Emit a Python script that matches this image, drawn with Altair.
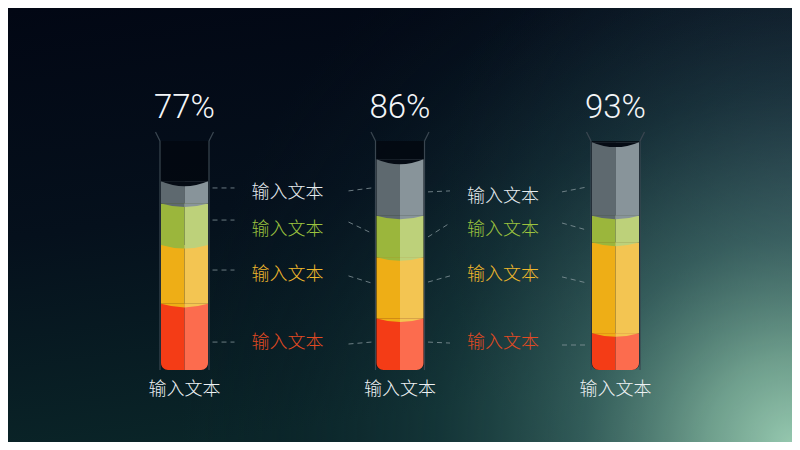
import altair as alt
import pandas as pd

# ---------------- data ----------------
tube_ids = [0, 1, 2]
percent_labels = ["77%", "86%", "93%"]
tube_names = ["输入文本", "输入文本", "输入文本"]

levels = ["red", "orange", "green", "gray"]          # bottom -> top
red_vals = [27, 21, 15]
orange_vals = [24, 25, 37]
green_vals = [17, 17, 11]
gray_vals = [9, 23, 30]

side_text = "输入文本"
side_levels = ["gray", "green", "orange", "red"]      # top -> bottom
label_y_tube0 = [72.2, 57.1, 38.8, 11.0]
label_y_tube1 = [70.6, 57.1, 38.8, 11.0]

# dashed connectors (heights at start / end)
short0_y = [74.3, 61.2, 40.8, 11.4]
conn01_start = [73.1, 60.4, 38.4, 10.6]
conn01_end = [74.3, 55.9, 35.5, 11.4]
short1_start = [72.7, 54.3, 35.9, 11.4]
short1_end = [73.1, 60.0, 38.4, 11.0]
conn12_start = [72.7, 60.0, 38.0, 10.2]
conn12_end = [74.7, 57.1, 35.5, 10.2]

dark_col = {"red": "#f43c16", "orange": "#eeae16", "green": "#9bb63c", "gray": "#5e696f"}
light_col = {"red": "#fc6c4e", "orange": "#f3c552", "green": "#bdd17a", "gray": "#88949a"}
text_col = {"red": "#e24a22", "orange": "#f0b82c", "green": "#9cc33e", "gray": "#e6ecef"}

# ---------------- geometry ----------------
W, H = 784, 434
PXX = 215.5                       # px per tube step
XMIN, XMAX = -176.5 / PXX, (W - 176.5) / PXX
PXY = 2.45                        # px per percent unit
YMAX = 362 / PXY
YMIN = (362 - H) / PXY


def dx(px):
    return px / PXX


def dy(px):
    return px / PXY


xs = alt.Scale(domain=[XMIN, XMAX], nice=False, zero=False)
ys = alt.Scale(domain=[YMIN, YMAX], nice=False, zero=False)


def X(f):
    return alt.X(f, type="quantitative", scale=xs, axis=None)


def X2(f):
    return alt.X2(f)


def Y(f):
    return alt.Y(f, type="quantitative", scale=ys, axis=None)


def Y2(f):
    return alt.Y2(f)


# segments
seg_rows = []
lens_rows = []
top_rows = []
vals = {"red": red_vals, "orange": orange_vals, "green": green_vals, "gray": gray_vals}
for t in tube_ids:
    base = 0.0
    for i, lv in enumerate(levels):
        top = base + vals[lv][t]
        seg_rows.append(dict(t=t, xl=t - dx(23.5), xm=t, xr=t + dx(23.5), y0=base, y1=top,
                             dark=dark_col[lv], light=light_col[lv], bottom=(i == 0)))
        if i > 0:
            lens_rows.append(dict(t=t, y=base, dark=dark_col[lv], light=light_col[lv]))
        base = top
    top_rows.append(dict(t=t, y=base, c="#050b14"))
seg = pd.DataFrame(seg_rows)
seg_bottom = seg[seg.bottom]
seg_upper = seg[~seg.bottom]
lens = pd.DataFrame(lens_rows)
lens_top = pd.DataFrame(top_rows)

tubes = pd.DataFrame(dict(t=tube_ids, pct=percent_labels, name=tube_names))
tubes["xl"] = tubes.t - dx(24.5)
tubes["xr"] = tubes.t + dx(24.5)
tubes["xfl"] = tubes.t - dx(29)
tubes["xfr"] = tubes.t + dx(29)
tubes["y0"] = 0.0
tubes["yw"] = dy(229)
tubes["ytop"] = dy(238)
tubes["ypct"] = dy(262)
tubes["yname"] = dy(-20)

lab_rows = []
for t, ly in [(0, label_y_tube0), (1, label_y_tube1)]:
    for lv, yv in zip(side_levels, ly):
        lab_rows.append(dict(x=t + dx(103), y=yv, txt=side_text, col=text_col[lv]))
labels = pd.DataFrame(lab_rows)

dash_rows = []
for i in range(4):
    dash_rows.append(dict(x=0 + dx(28), x2=0 + dx(50), y=short0_y[i], y2=short0_y[i]))
    dash_rows.append(dict(x=0 + dx(164), x2=0 + dx(187), y=conn01_start[i], y2=conn01_end[i]))
    dash_rows.append(dict(x=1 + dx(28), x2=1 + dx(50), y=short1_start[i], y2=short1_end[i]))
    dash_rows.append(dict(x=1 + dx(162), x2=1 + dx(187), y=conn12_start[i], y2=conn12_end[i]))
dashes = pd.DataFrame(dash_rows)

one = pd.DataFrame({"a": [0]})


def full_rect(grad):
    return alt.Chart(one).mark_rect(color=grad).encode(
        x=alt.value(0), x2=alt.value(W), y=alt.value(0), y2=alt.value(H))


# ---------------- layers ----------------
bg = full_rect(alt.LinearGradient(
    gradient="linear", x1=0, y1=0, x2=0.25, y2=1,
    stops=[alt.GradientStop(color="#020714", offset=0),
           alt.GradientStop(color="#05101c", offset=0.5),
           alt.GradientStop(color="#0a2528", offset=1)]))

# radial gradients are laid out in a square that covers the view (y view = 0.223..0.777)
side_glow = full_rect(alt.RadialGradient(
    gradient="radial", x1=1.05, y1=0.47, x2=1.05, y2=0.47, r1=0, r2=0.5,
    stops=[alt.GradientStop(color="rgba(60,62,92,0.7)", offset=0),
           alt.GradientStop(color="rgba(40,48,72,0.3)", offset=0.5),
           alt.GradientStop(color="rgba(20,30,50,0)", offset=1)]))

glow = full_rect(alt.RadialGradient(
    gradient="radial", x1=1.0, y1=0.78, x2=1.0, y2=0.78, r1=0, r2=0.78,
    stops=[alt.GradientStop(color="rgba(150,200,175,1)", offset=0),
           alt.GradientStop(color="rgba(118,168,148,0.92)", offset=0.14),
           alt.GradientStop(color="rgba(66,114,108,0.72)", offset=0.34),
           alt.GradientStop(color="rgba(30,70,72,0.48)", offset=0.58),
           alt.GradientStop(color="rgba(15,40,50,0.15)", offset=0.84),
           alt.GradientStop(color="rgba(10,30,40,0)", offset=1)]))

body = alt.Chart(tubes).mark_bar(
    color="#03080f", opacity=0.8, cornerRadiusBottomLeft=8, cornerRadiusBottomRight=8
).encode(x=X("xl"), x2=X2("xr"), y=Y("y0"), y2=Y2("yw"))

WALL = dict(color="#3a4650", strokeWidth=1.2)
wall_l = alt.Chart(tubes).mark_rule(**WALL).encode(x=X("xl"), y=Y("y0"), y2=Y2("yw"))
wall_r = alt.Chart(tubes).mark_rule(**WALL).encode(x=X("xr"), y=Y("y0"), y2=Y2("yw"))
flare_l = alt.Chart(tubes).mark_rule(**WALL).encode(x=X("xl"), x2=X2("xfl"), y=Y("yw"), y2=Y2("ytop"))
flare_r = alt.Chart(tubes).mark_rule(**WALL).encode(x=X("xr"), x2=X2("xfr"), y=Y("yw"), y2=Y2("ytop"))

seg_left_b = alt.Chart(seg_bottom).mark_bar(cornerRadiusBottomLeft=7).encode(
    x=X("xl"), x2=X2("xm"), y=Y("y0"), y2=Y2("y1"), color=alt.Color("dark:N", scale=None))
seg_right_b = alt.Chart(seg_bottom).mark_bar(cornerRadiusBottomRight=7).encode(
    x=X("xm"), x2=X2("xr"), y=Y("y0"), y2=Y2("y1"), color=alt.Color("light:N", scale=None))
seg_left_u = alt.Chart(seg_upper).mark_bar().encode(
    x=X("xl"), x2=X2("xm"), y=Y("y0"), y2=Y2("y1"), color=alt.Color("dark:N", scale=None))
seg_right_u = alt.Chart(seg_upper).mark_bar().encode(
    x=X("xm"), x2=X2("xr"), y=Y("y0"), y2=Y2("y1"), color=alt.Color("light:N", scale=None))

LEFT_LENS = "M-1,0 Q-0.5,0.15 0,0.15 L0,0 Z"
RIGHT_LENS = "M0,0 L0,0.15 Q0.5,0.15 1,0 Z"
TOP_LENS = "M-1,0 Q0,0.42 1,0 Z"
LENS = dict(size=47 ** 2, filled=True, opacity=1, strokeWidth=0)
lens_l = alt.Chart(lens).mark_point(shape=LEFT_LENS, **LENS).encode(
    x=X("t"), y=Y("y"), color=alt.Color("dark:N", scale=None))
lens_r = alt.Chart(lens).mark_point(shape=RIGHT_LENS, **LENS).encode(
    x=X("t"), y=Y("y"), color=alt.Color("light:N", scale=None))
lens_t = alt.Chart(lens_top).mark_point(shape=TOP_LENS, **LENS).encode(
    x=X("t"), y=Y("y"), color=alt.Color("c:N", scale=None))

dash = alt.Chart(dashes).mark_rule(color="#8c9ca2", strokeWidth=1, strokeDash=[5, 4], opacity=0.75).encode(
    x=X("x"), x2=X2("x2"), y=Y("y"), y2=Y2("y2"))

pct = alt.Chart(tubes).mark_text(
    font="Roboto", fontWeight=300, fontSize=33, color="#f4f6f8", baseline="middle"
).encode(x=X("t"), y=Y("ypct"), text="pct:N")

names = alt.Chart(tubes).mark_text(
    font="Noto Sans CJK SC", fontWeight=300, fontSize=18, color="#eef2f4", baseline="middle"
).encode(x=X("t"), y=Y("yname"), text="name:N")

side = alt.Chart(labels).mark_text(
    font="Noto Sans CJK SC", fontWeight=300, fontSize=18, baseline="middle"
).encode(x=X("x"), y=Y("y"), text="txt:N", color=alt.Color("col:N", scale=None))

chart = alt.layer(
    bg, side_glow, glow, body, wall_l, wall_r, flare_l, flare_r,
    seg_left_b, seg_right_b, seg_left_u, seg_right_u, lens_l, lens_r, lens_t,
    dash, pct, names, side
).properties(width=W, height=H, padding=0, background="#030815").configure_view(stroke=None)

chart.save("out.html", embed_options={"renderer": "svg", "actions": False})
